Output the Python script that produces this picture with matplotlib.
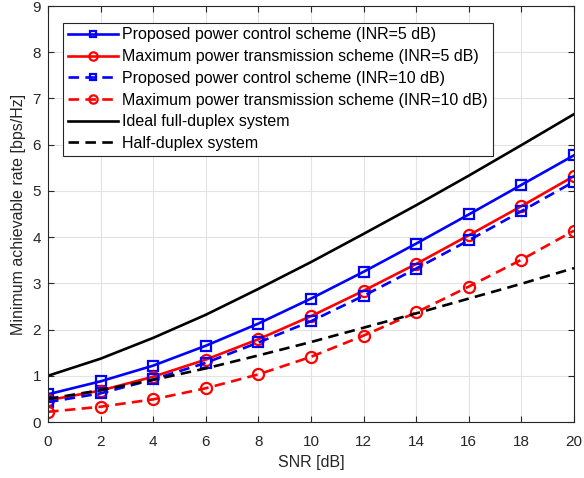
import matplotlib
matplotlib.use("Agg")
import matplotlib.pyplot as plt

plt.rcParams['font.family'] = ['Liberation Sans', 'DejaVu Sans']

# ── Data ─────────────────────────────────────────────────────────────────────
snr = [0, 2, 4, 6, 8, 10, 12, 14, 16, 18, 20]

prop_inr5 = [0.60, 0.88, 1.22, 1.65, 2.13, 2.67, 3.25, 3.86, 4.49, 5.13, 5.77]
maxp_inr5 = [0.47, 0.68, 0.98, 1.35, 1.79, 2.29, 2.84, 3.42, 4.04, 4.67, 5.32]
prop_inr10 = [0.43, 0.62, 0.92, 1.28, 1.72, 2.18, 2.73, 3.32, 3.93, 4.56, 5.20]
maxp_inr10 = [0.22, 0.33, 0.49, 0.73, 1.03, 1.41, 1.87, 2.37, 2.93, 3.51, 4.14]
ideal_fd = [1.00, 1.37, 1.82, 2.32, 2.88, 3.46, 4.07, 4.69, 5.33, 5.99, 6.66]
half_dup = [0.50, 0.69, 0.91, 1.16, 1.44, 1.73, 2.04, 2.35, 2.67, 2.99, 3.33]

labels = [
    "Proposed power control scheme (INR=5 dB)",
    "Maximum power transmission scheme (INR=5 dB)",
    "Proposed power control scheme (INR=10 dB)",
    "Maximum power transmission scheme (INR=10 dB)",
    "Ideal full-duplex system",
    "Half-duplex system",
]

fig = plt.figure(figsize=(5.84, 4.78), dpi=100)
ax = fig.add_axes([48 / 584, 56 / 478, 526 / 584, 416 / 478])

lw = 1.9
dash = (0, (4, 2.4))
sq = dict(marker='s', ms=6.5, mfc='none', mew=1.6)
ci = dict(marker='o', ms=8, mfc='none', mew=1.6)
ax.plot(snr, prop_inr5, '-', color='#0000ff', lw=lw, label=labels[0], **sq)
ax.plot(snr, maxp_inr5, '-', color='#ff0000', lw=lw, label=labels[1], **ci)
ax.plot(snr, prop_inr10, ls=dash, color='#0000ff', lw=lw, label=labels[2], **sq)
ax.plot(snr, maxp_inr10, ls=dash, color='#ff0000', lw=lw, label=labels[3], **ci)
ax.plot(snr, ideal_fd, '-', color='black', lw=lw, label=labels[4])
ax.plot(snr, half_dup, ls=dash, color='black', lw=lw, label=labels[5])

ax.set_xlim(0, 20)
ax.set_ylim(0, 9)
ax.set_xticks(range(0, 21, 2))
ax.set_yticks(range(0, 10))
ax.tick_params(direction='in', top=True, right=True, labelsize=11, length=4,
               colors='#262626', labelcolor='#262626')
ax.tick_params(axis='x', pad=9.5)
ax.tick_params(axis='y', pad=5)
ax.grid(True, color='#e3e3e3', lw=0.8)
ax.set_axisbelow(True)
for s in ax.spines.values():
    s.set_color('#262626')
    s.set_linewidth(0.8)

ax.set_xlabel("SNR [dB]", fontsize=11.5, labelpad=4.5, color='#262626')
ax.set_ylabel("Minimum achievable rate [bps/Hz]", fontsize=11.5, labelpad=4.5, color='#262626')

leg = ax.legend(loc='upper left', bbox_to_anchor=(0.029, 0.96), borderaxespad=0,
                fontsize=11.5, fancybox=False, framealpha=1, edgecolor='#262626',
                handlelength=3.1, handletextpad=0.3, labelspacing=0.42,
                borderpad=0.3, markerscale=0.75)
leg.get_frame().set_linewidth(0.8)

fig.savefig("out.png", dpi=100)
